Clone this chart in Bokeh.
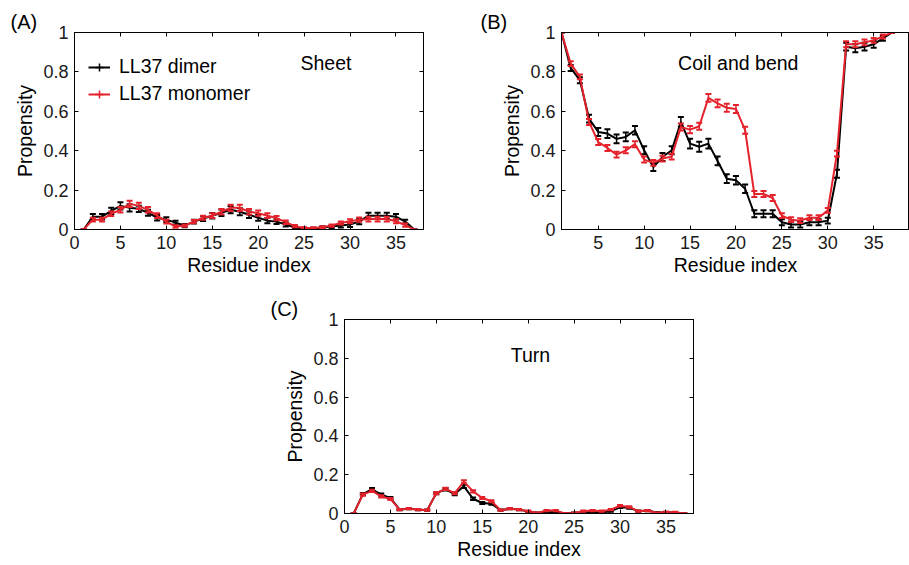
from bokeh.plotting import figure
from bokeh.models import (FixedTicker, LinearAxis, Label, Legend, LegendItem,
                          Spacer, Range1d, ColumnDataSource)
from bokeh.layouts import column, row
from bokeh.embed import file_html
from bokeh.resources import INLINE

# ---------------- data ----------------
residue = list(range(1, 38))

sheet_dimer = [0.0, 0.065, 0.065, 0.095, 0.12, 0.11, 0.105, 0.085, 0.06, 0.05,
               0.035, 0.02, 0.04, 0.055, 0.07, 0.085, 0.10, 0.09, 0.075, 0.06,
               0.045, 0.04, 0.025, 0.01, 0.005, 0.005, 0.01, 0.015, 0.02, 0.025,
               0.04, 0.07, 0.07, 0.07, 0.065, 0.04, 0.0]
sheet_dimer_err = [0.0, 0.014, 0.014, 0.016, 0.018, 0.018, 0.016, 0.015, 0.014, 0.012,
                   0.01, 0.008, 0.01, 0.012, 0.014, 0.016, 0.018, 0.018, 0.016, 0.015,
                   0.013, 0.012, 0.01, 0.006, 0.004, 0.004, 0.006, 0.008, 0.01, 0.012,
                   0.013, 0.015, 0.015, 0.015, 0.014, 0.01, 0.0]
sheet_monomer = [0.0, 0.05, 0.05, 0.08, 0.10, 0.13, 0.12, 0.10, 0.07, 0.04,
                 0.015, 0.02, 0.04, 0.06, 0.07, 0.09, 0.11, 0.11, 0.09, 0.083,
                 0.07, 0.058, 0.037, 0.017, 0.008, 0.008, 0.012, 0.02, 0.033, 0.042,
                 0.05, 0.053, 0.053, 0.053, 0.042, 0.022, 0.0]
sheet_monomer_err = [0.0, 0.01, 0.01, 0.012, 0.014, 0.016, 0.016, 0.014, 0.012, 0.01,
                     0.006, 0.006, 0.008, 0.01, 0.012, 0.014, 0.016, 0.016, 0.014, 0.013,
                     0.012, 0.011, 0.009, 0.006, 0.004, 0.004, 0.005, 0.006, 0.008, 0.01,
                     0.011, 0.012, 0.012, 0.012, 0.01, 0.008, 0.0]

coil_dimer = [1.0, 0.82, 0.758, 0.563, 0.495, 0.487, 0.46, 0.47, 0.504, 0.402,
              0.317, 0.368, 0.402, 0.546, 0.436, 0.42, 0.436, 0.348, 0.258, 0.25,
              0.207, 0.08, 0.08, 0.08, 0.037, 0.025, 0.025, 0.037, 0.037, 0.045,
              0.283, 0.928, 0.92, 0.928, 0.94, 0.97, 1.0]
coil_dimer_err = [0.0, 0.015, 0.015, 0.02, 0.02, 0.022, 0.022, 0.022, 0.022, 0.02,
                  0.02, 0.02, 0.02, 0.025, 0.025, 0.025, 0.025, 0.022, 0.022, 0.022,
                  0.022, 0.018, 0.018, 0.018, 0.015, 0.015, 0.015, 0.015, 0.015, 0.015,
                  0.02, 0.02, 0.02, 0.02, 0.018, 0.012, 0.0]
coil_monomer = [1.0, 0.842, 0.775, 0.546, 0.444, 0.414, 0.38, 0.402, 0.433, 0.355,
                0.338, 0.36, 0.37, 0.52, 0.507, 0.524, 0.668, 0.64, 0.618, 0.612,
                0.504, 0.18, 0.18, 0.16, 0.07, 0.05, 0.045, 0.06, 0.06, 0.097,
                0.385, 0.94, 0.94, 0.95, 0.96, 0.98, 1.0]
coil_monomer_err = [0.0, 0.012, 0.012, 0.015, 0.015, 0.015, 0.015, 0.015, 0.015, 0.015,
                    0.015, 0.015, 0.015, 0.018, 0.018, 0.018, 0.02, 0.02, 0.02, 0.02,
                    0.018, 0.015, 0.015, 0.015, 0.012, 0.012, 0.012, 0.012, 0.012, 0.012,
                    0.015, 0.015, 0.015, 0.015, 0.012, 0.01, 0.0]

turn_dimer = [0.0, 0.10, 0.125, 0.097, 0.08, 0.02, 0.025, 0.02, 0.017, 0.105,
              0.125, 0.10, 0.14, 0.076, 0.054, 0.05, 0.017, 0.025, 0.02, 0.01,
              0.003, 0.007, 0.007, 0.0, 0.003, 0.005, 0.008, 0.005, 0.012, 0.032,
              0.029, 0.012, 0.015, 0.005, 0.006, 0.004, 0.0]
turn_dimer_err = [0.0, 0.006, 0.006, 0.006, 0.005, 0.003, 0.003, 0.003, 0.003, 0.006,
                  0.006, 0.006, 0.008, 0.006, 0.005, 0.005, 0.003, 0.003, 0.003, 0.003,
                  0.002, 0.003, 0.003, 0.0, 0.002, 0.002, 0.003, 0.002, 0.003, 0.004,
                  0.004, 0.003, 0.003, 0.002, 0.002, 0.002, 0.0]
turn_monomer = [0.0, 0.097, 0.117, 0.088, 0.075, 0.02, 0.025, 0.02, 0.017, 0.105,
                0.127, 0.105, 0.164, 0.114, 0.08, 0.063, 0.017, 0.025, 0.02, 0.012,
                0.003, 0.015, 0.015, 0.0, 0.003, 0.012, 0.015, 0.012, 0.02, 0.04,
                0.034, 0.012, 0.015, 0.003, 0.008, 0.007, 0.0]
turn_monomer_err = [0.0, 0.006, 0.006, 0.006, 0.005, 0.003, 0.003, 0.003, 0.003, 0.006,
                    0.006, 0.006, 0.008, 0.006, 0.005, 0.005, 0.003, 0.003, 0.003, 0.003,
                    0.002, 0.003, 0.003, 0.0, 0.002, 0.003, 0.003, 0.003, 0.003, 0.004,
                    0.004, 0.003, 0.003, 0.002, 0.002, 0.002, 0.0]

x_ticks = [0, 5, 10, 15, 20, 25, 30, 35]
y_ticks = [0, 0.2, 0.4, 0.6, 0.8, 1]
y_tick_labels = {0: "0", 0.2: "0.2", 0.4: "0.4", 0.6: "0.6", 0.8: "0.8", 1: "1"}

series_names = ["LL37 dimer", "LL37 monomer"]
panel_tags = ["(A)", "(B)", "(C)"]
panel_titles = ["Sheet", "Coil and bend", "Turn"]

# ---------------- style ----------------
FONT = "Liberation Sans"
BIG = "19.5px"
TICK = "18px"
RED = "#e4222b"
BLACK = "#000000"


def make_panel(width, height, xr, mbl, mbr, mbt, mbb, tag, tag_offset):
    p = figure(width=width, height=height, x_range=Range1d(*xr),
               y_range=Range1d(0, 1), output_backend="svg",
               toolbar_location=None, min_border_left=mbl,
               min_border_right=mbr, min_border_top=mbt,
               min_border_bottom=mbb)
    p.grid.visible = False
    p.outline_line_color = "black"
    p.outline_line_width = 1
    p.background_fill_color = "white"
    p.border_fill_color = "white"
    # panel tag as title, pushed to the left of the frame
    p.title.text = tag
    p.title.align = "left"
    p.title.offset = tag_offset
    p.title.standoff = 0
    p.title.text_font = FONT
    p.title.text_font_size = "20px"
    p.title.text_font_style = "normal"
    p.title.text_color = "black"
    for ax in (p.xaxis[0], p.yaxis[0]):
        ax.major_tick_in = 4
        ax.major_tick_out = 0
        ax.minor_tick_line_color = None
        ax.axis_line_color = "black"
        ax.major_tick_line_color = "black"
        ax.major_label_text_font = FONT
        ax.major_label_text_font_size = TICK
        ax.major_label_text_color = "#1a1a1a"
        ax.axis_label_text_font = FONT
        ax.axis_label_text_font_size = BIG
        ax.axis_label_text_font_style = "normal"
        ax.axis_label_text_color = "black"
    p.xaxis.ticker = FixedTicker(ticks=x_ticks)
    p.yaxis.ticker = FixedTicker(ticks=y_ticks)
    p.yaxis.major_label_overrides = y_tick_labels
    p.xaxis.major_label_standoff = 6
    p.xaxis.axis_label_standoff = 2
    p.yaxis.major_label_standoff = 6
    p.yaxis.axis_label_standoff = 4
    p.yaxis.axis_label = "Propensity"
    p.xaxis.axis_label = "Residue index"
    # top ticks (box style), labels not drawn
    top = LinearAxis(ticker=FixedTicker(ticks=x_ticks), major_tick_in=4,
                     major_tick_out=0, minor_tick_line_color=None,
                     major_label_text_font_size="1px",
                     major_label_text_color=None, major_label_standoff=0,
                     axis_line_color="black")
    p.add_layout(top, "above")
    return p


def add_right_ticks(p):
    right = LinearAxis(ticker=FixedTicker(ticks=y_ticks), major_tick_in=4,
                       major_tick_out=0, minor_tick_line_color=None,
                       major_label_text_font_size="1px",
                       major_label_text_color=None, major_label_standoff=0,
                       axis_line_color="black")
    p.add_layout(right, "right")


def draw_series(p, x, y, err, color):
    lower = [a - b for a, b in zip(y, err)]
    upper = [a + b for a, b in zip(y, err)]
    src = ColumnDataSource(dict(x=x, y=y, lo=lower, up=upper))
    p.segment(x0="x", y0="lo", x1="x", y1="up", source=src,
              line_color=color, line_width=1.5)
    p.scatter("x", "up", source=src, marker="dash", size=6,
              line_color=color, line_width=2)
    p.scatter("x", "lo", source=src, marker="dash", size=6,
              line_color=color, line_width=2)
    ln = p.line("x", "y", source=src, line_color=color, line_width=2)
    # hidden marker renderer used only for the legend icon (error-bar look)
    mk = p.scatter("x", "y", source=src, marker="cross", size=14,
                   line_color=color, line_width=1.5, visible=False)
    return ln, mk


def add_text(p, text, x, y, size=BIG, align="left"):
    p.add_layout(Label(x=x, y=y, text=text, text_font=FONT,
                       text_font_size=size, text_baseline="middle",
                       text_align=align, text_color="black"))


# ---------- Panel A ----------
pA = make_panel(470, 295, (0, 38), 74, 47, 32, 66, panel_tags[0], -64)
add_right_ticks(pA)
rA_d = draw_series(pA, residue, sheet_dimer, sheet_dimer_err, BLACK)
rA_m = draw_series(pA, residue, sheet_monomer, sheet_monomer_err, RED)
add_text(pA, panel_titles[0], 24.6, 0.845)

leg_items = [LegendItem(label=series_names[0], renderers=list(rA_d)),
             LegendItem(label=series_names[1], renderers=list(rA_m))]
legend = Legend(items=leg_items, location=(14, 124), padding=0, margin=0,
                spacing=4, glyph_width=22, glyph_height=20, label_height=20,
                label_standoff=9, border_line_color=None,
                background_fill_alpha=0, inactive_fill_alpha=0,
                label_text_font=FONT, label_text_font_size=BIG,
                label_text_color="black")
pA.add_layout(legend)

# ---------- Panel B ----------
pB = make_panel(439, 295, (1, 38.9), 91, 0, 32, 66, panel_tags[1], -81)
draw_series(pB, residue, coil_dimer, coil_dimer_err, BLACK)
draw_series(pB, residue, coil_monomer, coil_monomer_err, RED)
add_text(pB, panel_titles[1], 13.7, 0.845)

# ---------- Panel C ----------
pC = make_panel(450, 269, (0, 38), 74, 27, 21, 51, panel_tags[2], -74)
add_right_ticks(pC)
draw_series(pC, residue, turn_dimer, turn_dimer_err, BLACK)
draw_series(pC, residue, turn_monomer, turn_monomer_err, RED)
add_text(pC, panel_titles[2], 18.1, 0.817)

layout = column(row(pA, pB), row(Spacer(width=270, height=269), pC))

open("out.html", "w").write(file_html(layout, INLINE))
